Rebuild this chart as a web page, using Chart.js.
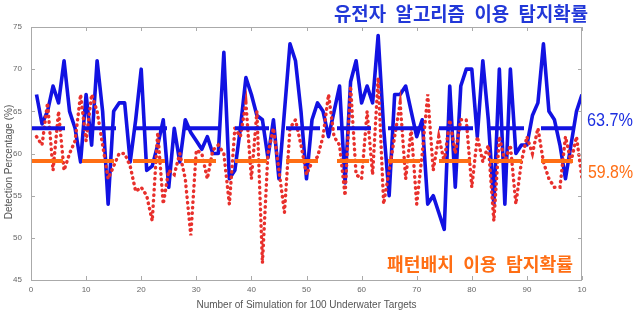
<!DOCTYPE html>
<html>
<head>
<meta charset="utf-8">
<script src="https://cdn.jsdelivr.net/npm/chart.js@4.4.0/dist/chart.umd.min.js"></script>
<style>
  html, body { margin: 0; padding: 0; background: #fff; }
  #wrap { width: 635px; height: 330px; }
</style>
</head>
<body>
<div id="wrap"><canvas id="chart" width="635" height="330"></canvas></div>
<script>
// Detection percentage per simulation
const geneticRate = [
  67, 63.5, 65, 68, 66, 71, 65, 63, 59, 67,
  61, 71, 65, 54, 65, 66, 66, 59, 64, 70,
  58, 58.5, 61, 64, 56, 63, 59, 64, 62.5, 61.5,
  60.5, 62, 60, 60, 72, 57, 58, 63, 69, 67,
  64.5, 64, 59.5, 64, 57, 65, 73, 71, 65, 57,
  64, 66, 65, 62, 65, 68, 56.5, 68.5, 71, 66,
  68, 66, 74, 63, 55, 67, 67, 68, 65, 62,
  64, 54, 55, 53, 51, 68, 56, 68, 70, 70,
  62, 71, 64, 54, 70, 54, 70, 60, 61, 61,
  64.5, 66, 73, 65, 64, 61, 57, 61, 65, 67
];
const patternRate = [
  62, 61, 66, 58, 65, 58, 60, 61.5, 67, 61.5,
  67, 65, 61, 57, 58.5, 60, 60, 58.5, 55.5, 56,
  55, 52, 62.5, 54, 58, 57.5, 60, 57, 50.3, 60.4,
  60, 57, 60.4, 61, 60, 54, 63, 62, 66, 57,
  65, 47, 60, 63, 58, 53, 63, 64, 61, 57.5,
  59, 59.6, 62, 67, 62, 61, 55, 68, 57.5, 57,
  65, 57.5, 69, 54, 58, 62, 66, 57, 63, 54,
  60, 67, 58, 62, 59, 64, 60, 64, 64, 56,
  62, 59, 61, 52, 62, 59, 61, 54, 59, 62,
  60, 63, 59, 57, 56, 56, 62, 59, 62, 57
];
const simulationNo = geneticRate.map((v, i) => i + 1);

const geneticMean = 63.0;
const patternMean = 59.1;
const geneticMeanLabel = '63.7%';
const patternMeanLabel = '59.8%';
const geneticTitle = '유전자 알고리즘 이용 탐지확률';
const patternTitle = '패턴배치 이용 탐지확률';

const xRange = [0, 100];
const xTicks = [0, 10, 20, 30, 40, 50, 60, 70, 80, 90, 100];
const xTickLabels = ['0', '10', '20', '30', '40', '50', '60', '70', '80', '90', '10'];
const yTicks = [45, 50, 55, 60, 65, 70, 75];
const xTitle = 'Number of Simulation for 100 Underwater Targets';
const yTitle = 'Detection Percentage (%)';

const BLUE = '#1212e2';
const RED = '#e8302c';
const ORANGE = '#ff6e14';
const AXIS = '#aaaaaa';

// draw text squeezed to fit between left and right
function fitText(ctx, text, left, right, cy, font, color) {
  ctx.save();
  ctx.font = font;
  ctx.fillStyle = color;
  ctx.textBaseline = 'middle';
  ctx.textAlign = 'left';
  const w = ctx.measureText(text).width;
  ctx.translate(left, cy);
  ctx.scale((right - left) / w, 1);
  ctx.fillText(text, 0, 0);
  ctx.restore();
}

const frame = {
  id: 'frame',
  afterDatasetsDraw(chart) {
    const { ctx, chartArea: a, scales } = chart;
    ctx.save();
    ctx.strokeStyle = AXIS;
    ctx.lineWidth = 1;
    ctx.strokeRect(a.left + 0.5, a.top + 0.5, a.right - a.left - 1, a.bottom - a.top);
    ctx.beginPath();
    xTicks.forEach(v => {
      const x = Math.round(scales.x.getPixelForValue(v)) + 0.5;
      ctx.moveTo(x, a.bottom); ctx.lineTo(x, a.bottom - 4);
      ctx.moveTo(x, a.top); ctx.lineTo(x, a.top + 4);
    });
    yTicks.forEach(v => {
      const y = Math.round(scales.y.getPixelForValue(v)) + 0.5;
      ctx.moveTo(a.left, y); ctx.lineTo(a.left + 4, y);
      ctx.moveTo(a.right, y); ctx.lineTo(a.right - 4, y);
    });
    ctx.stroke();
    ctx.restore();
  },
  afterDraw(chart) {
    const { ctx, chartArea: a } = chart;
    ctx.save();
    ctx.fillStyle = '#555';
    ctx.font = '10px "Liberation Sans", Arial, sans-serif';
    ctx.textAlign = 'center';
    ctx.textBaseline = 'middle';
    ctx.fillText(xTitle, (a.left + a.right) / 2, 305);
    ctx.translate(9, 162);
    ctx.rotate(-Math.PI / 2);
    ctx.fillText(yTitle, 0, 0);
    ctx.restore();

    // wider word gaps, as in the figure
    const wide = s => s.split(' ').join('\u2002');
    fitText(ctx, wide(geneticTitle), 334, 588, 14, 'bold 19px "Noto Sans CJK KR"', '#2238d8');
    fitText(ctx, wide(patternTitle), 387, 573, 264, 'bold 18px "Noto Sans CJK KR"', ORANGE);
    fitText(ctx, geneticMeanLabel, 587, 633, 121, '19px "Liberation Sans", Arial, sans-serif', '#1c2ee0');
    fitText(ctx, patternMeanLabel, 588, 633, 173, '19px "Liberation Sans", Arial, sans-serif', ORANGE);
  }
};

new Chart(document.getElementById('chart'), {
  type: 'line',
  data: {
    datasets: [
      {
        label: 'pattern mean',
        data: xRange.map(x => ({ x, y: patternMean })),
        borderColor: ORANGE,
        borderWidth: 4,
        borderDash: [32, 19],
        pointRadius: 0,
        order: 0
      },
      {
        label: 'genetic mean',
        data: xRange.map(x => ({ x, y: geneticMean })),
        borderColor: BLUE,
        borderWidth: 4,
        borderDash: [34, 17],
        pointRadius: 0,
        order: 1
      },
      {
        label: 'pattern',
        data: simulationNo.map((x, i) => ({ x, y: patternRate[i] })),
        borderColor: RED,
        borderWidth: 3.4,
        borderDash: [0.5, 5],
        borderCapStyle: 'round',
        pointRadius: 0,
        tension: 0,
        order: 2
      },
      {
        label: 'genetic',
        data: simulationNo.map((x, i) => ({ x, y: geneticRate[i] })),
        borderColor: BLUE,
        borderWidth: 3.6,
        borderJoinStyle: 'round',
        pointRadius: 0,
        tension: 0,
        order: 3
      }
    ]
  },
  options: {
    responsive: false,
    animation: false,
    devicePixelRatio: 1,
    layout: { padding: { top: 27, right: 53, left: 0, bottom: 0 } },
    plugins: { legend: { display: false }, tooltip: { enabled: false } },
    scales: {
      x: {
        type: 'linear',
        min: 0,
        max: 100,
        afterFit(scale) { scale.height = 50; },
        afterBuildTicks(scale) { scale.ticks = xTicks.map(v => ({ value: v })); },
        ticks: {
          padding: 5,
          color: '#666',
          font: { size: 8, family: '"Liberation Sans", Arial, sans-serif' },
          maxRotation: 0,
          callback: (v) => xTickLabels[xTicks.indexOf(v)]
        },
        grid: { display: false, drawTicks: false },
        border: { display: false }
      },
      y: {
        min: 45,
        max: 75,
        afterFit(scale) { scale.width = 31; },
        afterBuildTicks(scale) { scale.ticks = yTicks.map(v => ({ value: v })); },
        ticks: {
          padding: 9,
          color: '#666',
          font: { size: 8, family: '"Liberation Sans", Arial, sans-serif' }
        },
        grid: { display: false, drawTicks: false },
        border: { display: false }
      }
    }
  },
  plugins: [frame]
});
</script>
</body>
</html>
